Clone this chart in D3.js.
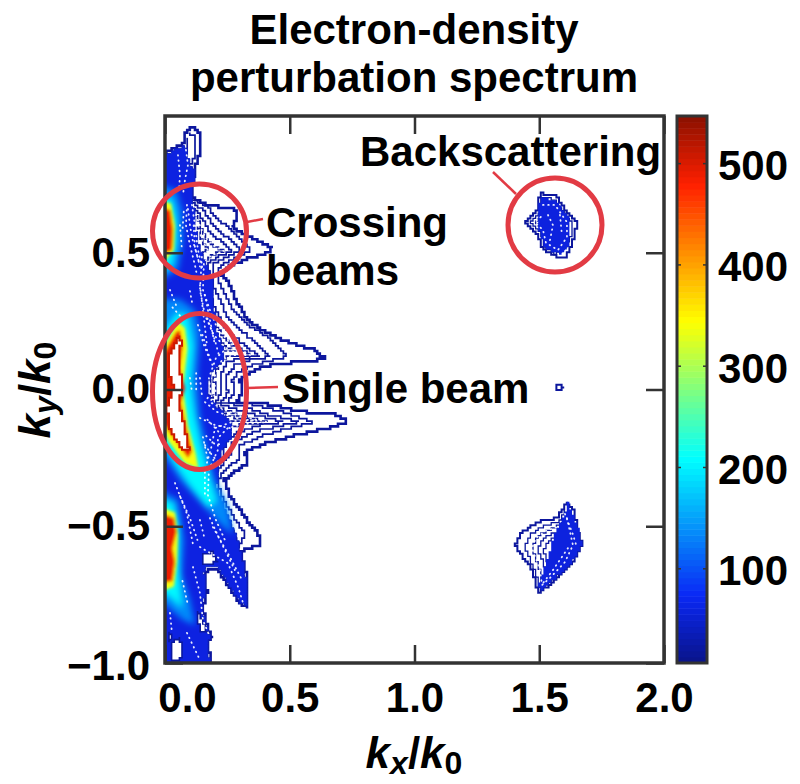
<!DOCTYPE html>
<html>
<head>
<meta charset="utf-8">
<script src="https://cdn.jsdelivr.net/npm/d3@7"></script>
<style>
  body { margin: 0; background: #fff; }
  text { font-family: "Liberation Sans", Arial, sans-serif; font-weight: bold; fill: #000; }
</style>
</head>
<body>
<svg id="chart" width="800" height="784"></svg>
<script>
// tick labels
const xTicks = [0, 0.5, 1, 1.5, 2];
const yTicks = [-1, -0.5, 0, 0.5];
const barTicks = [100, 200, 300, 400, 500];

// jet colour stops of the colour bar
const barStops = [7, 74, 209, 344, 479, 547];
const barColors = ["#0a1488", "#0a28f5", "#00ffff", "#ffff00", "#ff2000", "#8a1000"];

// contour lines, [kx, ky]
const outerContour = [[-.02,.846],[.02,.876],[.052,.89],[.072,.901],[.084,.941],[.104,.963],[.136,.938],[.14,.868],[.12,.81],[.108,.74],[.108,.7],[.168,.675],[.248,.664],[.289,.656],[.289,.627],[.269,.594],[.305,.572],[.353,.55],[.429,.517],[.413,.499],[.341,.481],[.252,.448],[.228,.419],[.26,.382],[.281,.335],[.321,.265],[.381,.218],[.501,.17],[.601,.144],[.641,.115],[.593,.101],[.473,.097],[.381,.079],[.329,.053],[.301,.035],[.309,-.013],[.289,-.046],[.381,-.049],[.553,-.082],[.689,-.093],[.729,-.119],[.661,-.141],[.529,-.166],[.409,-.196],[.321,-.228],[.333,-.269],[.273,-.305],[.24,-.331],[.26,-.393],[.293,-.43],[.329,-.477],[.381,-.539],[.381,-.569],[.301,-.594],[.321,-.66],[.333,-.722],[.333,-.799],[.301,-.781],[.26,-.722],[.212,-.66],[.172,-.66],[.16,-.678],[.168,-.744],[.152,-.795],[.168,-.868],[.188,-.905],[.172,-.927],[.188,-1.02],[-.02,-1.02]];
const contourA = [[.112,.693],[.168,.667],[.228,.609],[.301,.554],[.341,.51],[.289,.484],[.212,.444],[.212,.4],[.24,.353],[.273,.291],[.321,.243],[.409,.192],[.489,.119],[.409,.101],[.341,.086],[.293,.06],[.269,.035],[.281,-.013],[.252,-.046],[.341,-.053],[.481,-.086],[.593,-.119],[.501,-.141],[.389,-.17],[.301,-.206],[.293,-.258],[.24,-.294],[.208,-.338],[.228,-.393],[.269,-.459],[.321,-.532],[.293,-.579]];
const contourB = [[.112,.682],[.16,.649],[.2,.59],[.26,.547],[.301,.51],[.252,.484],[.188,.455],[.188,.382],[.22,.327],[.252,.261],[.313,.21],[.421,.119],[.341,.108],[.281,.09],[.244,.042],[.252,-.013],[.228,-.046],[.301,-.06],[.401,-.09],[.541,-.119],[.461,-.133],[.361,-.155],[.273,-.192],[.26,-.243],[.212,-.294],[.188,-.349],[.212,-.404],[.252,-.477],[.293,-.569]];
const contourC = [[.12,.664],[.152,.62],[.18,.576],[.228,.536],[.269,.506],[.22,.488],[.172,.462],[.168,.382],[.196,.309],[.232,.236],[.301,.174],[.381,.119],[.301,.115],[.252,.101],[.22,.042],[.228,-.013],[.204,-.046],[.269,-.068],[.361,-.093],[.473,-.119],[.389,-.13],[.301,-.155],[.244,-.185],[.236,-.239],[.192,-.294],[.188,-.386],[.228,-.477],[.26,-.569]];
const contourD = [[.124,.638],[.144,.59],[.164,.554],[.196,.525],[.236,.506],[.188,.492],[.156,.466],[.152,.364],[.18,.291],[.212,.218],[.269,.163],[.341,.126],[.269,.126],[.228,.108],[.196,.042],[.204,-.013],[.18,-.046],[.24,-.075],[.301,-.097],[.409,-.119],[.321,-.126],[.252,-.141],[.212,-.177],[.212,-.221],[.176,-.294],[.172,-.386],[.204,-.477],[.24,-.55]];
const contourE = [[.132,.601],[.148,.547],[.172,.51],[.148,.488],[.14,.364],[.16,.272],[.196,.199],[.244,.152],[.301,.137],[.236,.141],[.204,.115],[.176,.042],[.184,-.013],[.16,-.046],[.208,-.082],[.301,-.108],[.369,-.115],[.281,-.115],[.2,-.141],[.188,-.203],[.16,-.294],[.16,-.386]];
const towerLine = [[.096,.941],[.124,.915],[.124,.868],[.104,.821]];
const towerWall = [[.09,.92],[.092,.85]];

// filled levels of the main band
const bodyLevel = [[-.02,.846],[.02,.868],[.052,.883],[.076,.89],[.088,.876],[.1,.821],[.124,.803],[.112,.729],[.108,.693],[.12,.638],[.128,.547],[.16,.466],[.192,.4],[.192,.327],[.208,.207],[.228,.163],[.24,.108],[.188,.064],[.172,.016],[.18,-.038],[.228,-.082],[.269,-.13],[.26,-.185],[.228,-.228],[.212,-.283],[.208,-.367],[.24,-.44],[.289,-.539],[.321,-.66],[.333,-.795],[.301,-.777],[.26,-.718],[.212,-.649],[.168,-.645],[.156,-.671],[.164,-.744],[.148,-.795],[.164,-.868],[.184,-.905],[.168,-.927],[.184,-1.02],[-.02,-1.02]];
const coolLevels = [
  { level: 135, shape: [[-.02,.748],[.044,.729],[.068,.656],[.072,.547],[.052,.437],[-.02,.4]] },
  { level: 135, shape: [[-.02,.33],[.06,.33],[.12,.29],[.14,.2],[.128,.05],[.14,-.1],[.17,-.22],[.2,-.33],[.25,-.42],[.27,-.53],[.22,-.49],[.14,-.41],[.06,-.33],[-.02,-.22]] },
  { level: 135, shape: [[-.02,-.367],[.052,-.404],[.076,-.55],[.068,-.678],[.1,-.77],[.12,-.861],[.072,-.843],[-.02,-.77]] },
  { level: 205, shape: [[-.02,.711],[.028,.693],[.044,.62],[.044,.528],[.028,.455],[-.02,.429]] },
  { level: 205, shape: [[-.02,.19],[.05,.28],[.09,.27],[.112,.16],[.1,.02],[.118,-.1],[.146,-.22],[.18,-.33],[.205,-.41],[.17,-.43],[.1,-.35],[.04,-.27],[-.02,-.17]] },
  { level: 205, shape: [[-.02,-.404],[.032,-.415],[.052,-.495],[.052,-.623],[.06,-.733],[.068,-.799],[.028,-.762],[-.02,-.733]] }
];
const hotLevels = [
  { level: 340, shape: [[-.02,.69],[.024,.68],[.04,.6],[.036,.51],[-.02,.45]] },
  { level: 340, shape: [[-.02,.13],[.05,.25],[.08,.225],[.09,.15],[.072,.005],[.092,-.13],[.122,-.23],[.134,-.29],[.08,-.27],[.015,-.19],[-.02,-.12]] },
  { level: 340, shape: [[-.02,-.43],[.04,-.45],[.052,-.53],[.048,-.63],[.036,-.72],[-.02,-.74]] },
  { level: 490, shape: [[-.02,.67],[.022,.655],[.032,.585],[.028,.51],[-.02,.49]] },
  { level: 490, shape: [[-.02,.11],[.044,.21],[.06,.218],[.072,.163],[.06,.079],[.08,.005],[.064,-.049],[.088,-.148],[.108,-.228],[.092,-.25],[.04,-.185],[-.02,-.11]] },
  { level: 490, shape: [[-.02,-.45],[.036,-.47],[.046,-.52],[.03,-.58],[.04,-.63],[.03,-.7],[-.02,-.71]] }
];
const saturatedCore = [[.056,.199],[.064,.17],[.056,.082],[.072,.005],[.056,-.049],[.08,-.148],[.096,-.225],[.072,-.221],[.02,-.141],[.008,-.068],[.036,.009],[.016,.064],[.012,.119]];

// aliased contours that show as white chains inside the blue
const speckleChains = [
  [[.084,.876],[.092,.821],[.08,.766],[.072,.711]],
  [[.052,.857],[.06,.784],[.056,.729]],
  [[.088,.675],[.084,.601],[.1,.528],[.12,.455],[.128,.419]],
  [[.108,.675],[.12,.601],[.132,.51],[.152,.437]],
  [[.092,.66],[.1,.6],[.11,.55],[.135,.47]],
  [[.115,.6],[.12,.52],[.14,.45]],
  [[.075,.65],[.07,.58]],
  [[.06,.601],[.068,.51]],
  [[.02,.364],[.044,.309]],
  [[.03,.3],[.06,.27]],
  [[.1,.36],[.11,.31]],
  [[.14,.382],[.152,.291],[.168,.163]],
  [[.16,.346],[.18,.254],[.2,.163]],
  [[.132,.236],[.156,.163],[.18,.108]],
  [[.15,.2],[.17,.14],[.19,.09]],
  [[.17,.26],[.2,.18],[.215,.13]],
  [[.1,.042],[.108,-.009]],
  [[.14,.042],[.148,-.02]],
  [[.125,.06],[.125,-.01]],
  [[.14,-.104],[.2,-.13],[.26,-.141]],
  [[.17,-.11],[.22,-.16]],
  [[.16,-.203],[.188,-.239],[.212,-.265]],
  [[.165,-.17],[.2,-.2],[.23,-.2]],
  [[.152,-.174],[.172,-.258]],
  [[.04,-.342],[.088,-.455],[.112,-.565]],
  [[.06,-.39],[.1,-.47],[.13,-.55]],
  [[.14,-.477],[.16,-.55]],
  [[.18,-.47],[.22,-.55],[.28,-.66]],
  [[.14,-.576],[.252,-.635],[.293,-.722],[.313,-.781]],
  [[.192,-.503],[.26,-.612],[.309,-.697]],
  [[.112,-.649],[.14,-.744],[.152,-.843],[.18,-.905]],
  [[.07,-.7],[.09,-.78]],
  [[.088,-.89],[.14,-.989]],
  [[.02,-.817],[.028,-.89]],
  [[1.535,.638],[1.555,.601],[1.543,.546]],
  [[1.583,.638],[1.591,.565]],
  [[1.603,-.455],[1.635,-.53],[1.65,-.575]],
  [[1.615,-.58],[1.555,-.66],[1.515,-.708]]
];
const gapPatches = [
  [[.152,-.605],[.188,-.594],[.212,-.631],[.168,-.638],[.152,-.642]],
  [[.032,-.916],[.06,-.909],[.072,-.971],[.052,-.989],[.028,-.989]],
  [[.016,-.89],[.028,-.897],[.02,-.923],[.012,-.923]],
  [[.128,-.806],[.152,-.843],[.168,-.887],[.14,-.88]]
];

// islands on the right
const backTop = [[1.503,.718],[1.563,.711],[1.591,.675],[1.611,.649],[1.651,.612],[1.643,.557],[1.603,.481],[1.575,.484],[1.515,.51],[1.495,.565],[1.443,.612],[1.495,.664]];
const backTop2 = [[1.507,.704],[1.555,.696],[1.583,.664],[1.635,.605],[1.631,.561],[1.591,.503],[1.567,.495],[1.523,.521],[1.507,.572],[1.463,.612],[1.507,.653]];
const backTop3 = [[1.515,.675],[1.563,.675],[1.611,.612],[1.611,.557],[1.575,.51],[1.527,.536],[1.515,.583],[1.483,.612],[1.515,.638]];
const backTopCore = [[1.503,.704],[1.571,.686],[1.623,.62],[1.623,.529],[1.591,.492],[1.523,.518],[1.491,.601]];
const backMid = [[1.571,.016],[1.587,.02],[1.595,.009],[1.587,-.002],[1.571,.002]];
const backLow = [[1.61,-.411],[1.639,-.441],[1.651,-.503],[1.671,-.569],[1.627,-.642],[1.559,-.704],[1.495,-.744],[1.475,-.66],[1.403,-.569],[1.431,-.521],[1.495,-.484],[1.571,-.469],[1.595,-.433]];
const backLow2 = [[1.603,-.441],[1.631,-.496],[1.655,-.569],[1.615,-.642],[1.555,-.697],[1.503,-.733],[1.487,-.667],[1.443,-.576],[1.463,-.532],[1.507,-.503],[1.575,-.485]];
const backLow3 = [[1.611,-.47],[1.635,-.569],[1.603,-.631],[1.543,-.689],[1.511,-.715],[1.503,-.66],[1.471,-.58],[1.487,-.543],[1.523,-.518],[1.571,-.503]];
const backLow4 = [[1.495,-.583],[1.507,-.554],[1.539,-.532],[1.575,-.521],[1.6,-.56],[1.575,-.64],[1.531,-.682],[1.519,-.64]];
const backLow5 = [[1.519,-.59],[1.527,-.565],[1.551,-.547],[1.575,-.54],[1.56,-.6],[1.54,-.65]];
const backLowCore = [[1.615,-.415],[1.655,-.503],[1.671,-.569],[1.623,-.642],[1.515,-.733],[1.495,-.722],[1.531,-.623],[1.563,-.525],[1.603,-.451]];

const plotLeft = 165, plotRight = 664, plotTop = 116, plotBottom = 663;
const barLeft = 677, barRight = 707;
const cell = 2.6; // the spectrum grid, gives the contours their stairs

const svg = d3.select("#chart");
const x = d3.scaleLinear().domain([0, 2]).range([plotLeft, plotRight]);
const y = d3.scaleLinear().domain([-1, 1]).range([plotBottom, plotTop]);
const barY = d3.scaleLinear().domain([7, 547]).range([plotBottom, plotTop]);
const color = d3.scaleLinear().domain(barStops).range(barColors);
const lineColor = color(20);

const path = d3.line().x(d => x(d[0])).y(d => y(d[1]));
const closed = d3.line().x(d => x(d[0])).y(d => y(d[1])).curve(d3.curveLinearClosed);

// walk a contour through the grid cells it crosses
const stairs = (points, isClosed) => {
  const pts = points.map(d => [x(d[0]), y(d[1])]);
  if (isClosed) pts.push(pts[0]);
  const out = [];
  d3.pairs(pts).forEach(([a, b]) => {
    const n = Math.ceil(Math.hypot(b[0] - a[0], b[1] - a[1]));
    d3.range(n + 1).forEach(i => {
      const cx = Math.round((a[0] + (b[0] - a[0]) * i / n) / cell) * cell;
      const cy = Math.round((a[1] + (b[1] - a[1]) * i / n) / cell) * cell;
      const last = out[out.length - 1];
      if (last && last[0] === cx && last[1] === cy) return;
      if (last && last[0] !== cx && last[1] !== cy) out.push([cx, last[1]]);
      out.push([cx, cy]);
    });
  });
  return d3.line()(out) + (isClosed ? "Z" : "");
};
const closedStairs = d => stairs(d, true);
const openStairs = d => stairs(d, false);

const defs = svg.append("defs");
defs.append("clipPath").attr("id", "plotClip").append("rect")
  .attr("x", plotLeft).attr("y", plotTop).attr("width", plotRight - plotLeft).attr("height", plotBottom - plotTop);
defs.append("filter").attr("id", "soft").attr("x", "-30%").attr("y", "-30%").attr("width", "160%").attr("height", "160%")
  .append("feGaussianBlur").attr("stdDeviation", 3);
defs.append("filter").attr("id", "softHot").attr("x", "-30%").attr("y", "-30%").attr("width", "160%").attr("height", "160%")
  .append("feGaussianBlur").attr("stdDeviation", 1.5);
defs.append("filter").attr("id", "soften").attr("x", "-5%").attr("y", "-5%").attr("width", "110%").attr("height", "110%")
  .append("feGaussianBlur").attr("stdDeviation", 0.45);

const plot = svg.append("g").attr("clip-path", "url(#plotClip)");
const lines = plot.append("g").attr("filter", "url(#soften)");

// outline contours first, the filled band covers their inner part
lines.append("path").attr("d", closedStairs(outerContour))
  .attr("fill", "#fff").attr("stroke", lineColor).attr("stroke-width", 2.6);

lines.selectAll(".inner")
  .data([contourA, contourB, contourC, contourD, contourE, towerLine, towerWall])
  .join("path").attr("class", "inner")
  .attr("d", openStairs).attr("fill", "none")
  .attr("stroke", lineColor).attr("stroke-width", 1.7);

lines.append("path").attr("d", closedStairs(bodyLevel))
  .attr("fill", color(62)).attr("stroke", color(40)).attr("stroke-width", 1);

plot.append("g").attr("filter", "url(#soft)")
  .selectAll("path").data(coolLevels).join("path")
  .attr("d", d => closed(d.shape))
  .attr("fill", d => color(d.level));

plot.append("g").attr("filter", "url(#softHot)")
  .selectAll("path").data(hotLevels).join("path")
  .attr("d", d => closed(d.shape))
  .attr("fill", d => color(d.level));

plot.append("path").attr("d", closedStairs(saturatedCore))
  .attr("fill", "#fff").attr("stroke", color(510)).attr("stroke-width", 2);

const islands = plot.append("g").attr("filter", "url(#soften)");
islands.selectAll(".edge")
  .data([backTop, backLow, backMid])
  .join("path").attr("class", "edge")
  .attr("d", closedStairs).attr("fill", "#fff")
  .attr("stroke", lineColor).attr("stroke-width", 2);
islands.selectAll(".ring")
  .data([backTop2, backTop3, backLow2, backLow3, backLow4, backLow5])
  .join("path").attr("class", "ring")
  .attr("d", closedStairs).attr("fill", "none")
  .attr("stroke", lineColor).attr("stroke-width", 1.3);
islands.selectAll(".core")
  .data([backTopCore, backLowCore])
  .join("path").attr("class", "core")
  .attr("d", closedStairs).attr("fill", color(60));

plot.selectAll(".gap").data(gapPatches).join("path").attr("class", "gap")
  .attr("d", closedStairs).attr("fill", "#fff")
  .attr("stroke", lineColor).attr("stroke-width", 1.6);

plot.selectAll(".speckle")
  .data(speckleChains.concat([contourD, contourE, backTop3, backLow3]))
  .join("path").attr("class", "speckle")
  .attr("d", path).attr("fill", "none").attr("stroke", "#fff").attr("stroke-width", 1.8)
  .attr("stroke-linecap", "round").attr("stroke-dasharray", "0.6 4.6").attr("opacity", 0.9);

// axes, ticks point inward on all four sides
const styleAxis = (g) => {
  g.select(".domain").remove();
  g.selectAll(".tick line").attr("stroke", "#333").attr("stroke-width", 2.5);
};
const numFormat = d => d3.format(".1f")(d).replace("-", "\u2013");

const xAxisG = svg.append("g").attr("transform", `translate(0,${plotBottom})`)
  .call(d3.axisBottom(x).tickValues(xTicks).tickSize(-18).tickFormat(numFormat).tickPadding(19))
  .call(styleAxis);
svg.append("g").attr("transform", `translate(0,${plotTop})`)
  .call(d3.axisTop(x).tickValues(xTicks).tickSize(-18).tickFormat(""))
  .call(styleAxis);
const yAxisG = svg.append("g").attr("transform", `translate(${plotLeft},0)`)
  .call(d3.axisLeft(y).tickValues(yTicks).tickSize(-18).tickFormat(numFormat).tickPadding(15))
  .call(styleAxis);
svg.append("g").attr("transform", `translate(${plotRight},0)`)
  .call(d3.axisRight(y).tickValues(yTicks).tickSize(-18).tickFormat(""))
  .call(styleAxis);

xAxisG.selectAll("text").attr("font-size", 42);
yAxisG.selectAll("text").attr("font-size", 42);
xAxisG.selectAll(".tick").filter(d => d === 0).select("text").attr("dx", 22);
yAxisG.selectAll(".tick").filter(d => d === -1).select("text").attr("dy", "0.4em");

svg.append("rect")
  .attr("x", plotLeft).attr("y", plotTop).attr("width", plotRight - plotLeft).attr("height", plotBottom - plotTop)
  .attr("fill", "none").attr("stroke", "#333").attr("stroke-width", 3.5);

// colour bar
const barValues = d3.range(7, 547, 6);
svg.append("g").selectAll("rect").data(barValues).join("rect")
  .attr("x", barLeft).attr("width", barRight - barLeft)
  .attr("y", d => barY(d + 6)).attr("height", d => barY(d) - barY(d + 6) + 0.5)
  .attr("fill", d => color(d + 3));
svg.append("rect")
  .attr("x", barLeft).attr("y", plotTop).attr("width", barRight - barLeft).attr("height", plotBottom - plotTop)
  .attr("fill", "none").attr("stroke", "#333").attr("stroke-width", 3);

const barAxisG = svg.append("g").attr("transform", `translate(${barRight},0)`)
  .call(d3.axisRight(barY).tickValues(barTicks).tickSize(0).tickPadding(11).tickFormat(d => d))
  .call(styleAxis);
barAxisG.selectAll("text").attr("font-size", 42).attr("dy", "0.38em");
svg.append("g").selectAll("line").data(barTicks).join("line")
  .attr("x1", barLeft).attr("x2", barLeft + 4)
  .attr("y1", d => barY(d)).attr("y2", d => barY(d))
  .attr("stroke", "#333").attr("stroke-width", 1.5);
svg.append("g").selectAll("line").data(barTicks).join("line")
  .attr("x1", barRight - 4).attr("x2", barRight)
  .attr("y1", d => barY(d)).attr("y2", d => barY(d))
  .attr("stroke", "#333").attr("stroke-width", 1.5);

// titles
const title = svg.append("text").attr("text-anchor", "middle").attr("font-size", 42);
title.append("tspan").attr("x", 414).attr("y", 44).text("Electron-density");
title.append("tspan").attr("x", 414).attr("y", 92).text("perturbation spectrum");

const axisLabel = (g, main, sub) => {
  g.append("tspan").attr("font-style", "italic").text(main[0]);
  g.append("tspan").attr("font-style", "italic").attr("font-size", 32).attr("dy", 6).text(main[1]);
  g.append("tspan").attr("dy", -6).text("/");
  g.append("tspan").attr("font-style", "italic").text(sub[0]);
  g.append("tspan").attr("font-size", 32).attr("dy", 6).text(sub[1]);
};
axisLabel(svg.append("text").attr("x", 414).attr("y", 768).attr("text-anchor", "middle").attr("font-size", 44), "kx", "k0");
axisLabel(svg.append("text").attr("text-anchor", "middle").attr("font-size", 44)
  .attr("transform", "translate(50,390) rotate(-90)"), "ky", "k0");

// annotations
const ringColor = "#e23b44";
const rings = [
  { cx: 199.5, cy: 231, rx: 47, ry: 47 },
  { cx: 199.5, cy: 391.5, rx: 47, ry: 78 },
  { cx: 555, cy: 225, rx: 47, ry: 47 }
];
const leaders = [
  { x1: 247, y1: 222, x2: 263, y2: 219 },
  { x1: 247, y1: 388, x2: 278, y2: 387 },
  { x1: 493, y1: 172, x2: 516, y2: 194 }
];
const notes = [
  { text: "Crossing", x: 266, y: 237 },
  { text: "beams", x: 266, y: 285 },
  { text: "Single beam", x: 282, y: 403 },
  { text: "Backscattering", x: 360, y: 166 }
];
svg.append("g").selectAll("ellipse").data(rings).join("ellipse")
  .attr("cx", d => d.cx).attr("cy", d => d.cy).attr("rx", d => d.rx).attr("ry", d => d.ry)
  .attr("fill", "none").attr("stroke", ringColor).attr("stroke-width", 5);
svg.append("g").selectAll("line").data(leaders).join("line")
  .attr("x1", d => d.x1).attr("y1", d => d.y1).attr("x2", d => d.x2).attr("y2", d => d.y2)
  .attr("stroke", ringColor).attr("stroke-width", 2.5);
svg.append("g").selectAll("text").data(notes).join("text")
  .attr("x", d => d.x).attr("y", d => d.y).attr("font-size", 42).text(d => d.text);
</script>
</body>
</html>
